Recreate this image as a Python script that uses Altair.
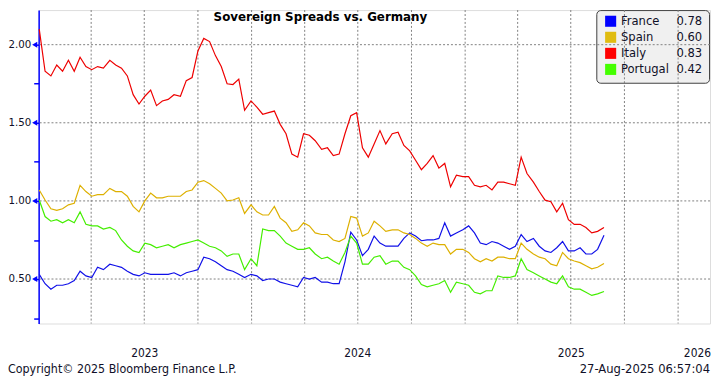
import altair as alt
import pandas as pd

countries = ["France", "Spain", "Italy", "Portugal"]
line_colors = ["#1010E8", "#DDB000", "#EE0000", "#44EE00"]
swatch_colors = ["#0000FF", "#E0BC10", "#FF0000", "#44FF00"]
last_values = ["0.78", "0.60", "0.83", "0.42"]

france = [0.53, 0.47, 0.435, 0.46, 0.46, 0.47, 0.49, 0.55, 0.52, 0.51,
          0.575, 0.56, 0.595, 0.585, 0.575, 0.55, 0.53, 0.52, 0.54, 0.53,
          0.53, 0.53, 0.53, 0.54, 0.52, 0.54, 0.55, 0.56, 0.64, 0.63,
          0.61, 0.585, 0.56, 0.55, 0.53, 0.51, 0.53, 0.52, 0.49, 0.50,
          0.50, 0.48, 0.47, 0.46, 0.45, 0.51, 0.50, 0.51, 0.48, 0.48,
          0.47, 0.47, 0.61, 0.80, 0.75, 0.65, 0.69, 0.775, 0.73, 0.71,
          0.71, 0.71, 0.76, 0.795, 0.775, 0.745, 0.75, 0.75, 0.76, 0.86,
          0.775, 0.795, 0.815, 0.84, 0.795, 0.73, 0.72, 0.74, 0.73, 0.71,
          0.69, 0.71, 0.785, 0.74, 0.76, 0.71, 0.68, 0.67, 0.70, 0.74,
          0.68, 0.68, 0.70, 0.66, 0.66, 0.69, 0.78]
spain = [1.07, 1.006, 0.95, 0.94, 0.95, 0.975, 0.985, 1.10, 1.06, 1.03,
         1.04, 1.04, 1.08, 1.06, 1.06, 1.03, 0.965, 0.93, 1.00, 1.05,
         1.02, 1.02, 1.03, 1.03, 1.03, 1.06, 1.07, 1.12, 1.13, 1.11,
         1.08, 1.05, 1.00, 1.006, 1.02, 0.92, 0.975, 0.93, 0.91, 0.91,
         0.965, 0.89, 0.86, 0.805, 0.815, 0.86, 0.84, 0.795, 0.785, 0.785,
         0.75, 0.74, 0.76, 0.90, 0.89, 0.775, 0.795, 0.87, 0.84, 0.805,
         0.815, 0.815, 0.795, 0.785, 0.76, 0.73, 0.71, 0.73, 0.72, 0.72,
         0.66, 0.69, 0.69, 0.67, 0.63, 0.61, 0.63, 0.615, 0.64, 0.64,
         0.63, 0.63, 0.73, 0.69, 0.66, 0.64, 0.63, 0.595, 0.585, 0.67,
         0.63, 0.615, 0.605, 0.585, 0.565, 0.575, 0.60]
italy = [2.10, 1.83, 1.80, 1.87, 1.83, 1.90, 1.83, 1.92, 1.86, 1.84,
         1.86, 1.85, 1.90, 1.87, 1.85, 1.80, 1.68, 1.62, 1.67, 1.71,
         1.61, 1.64, 1.65, 1.68, 1.67, 1.77, 1.79, 1.96, 2.04, 2.02,
         1.93, 1.86, 1.75, 1.745, 1.78, 1.58, 1.64, 1.60, 1.555, 1.565,
         1.575, 1.49, 1.43, 1.30, 1.28, 1.43, 1.42, 1.385, 1.33, 1.34,
         1.29, 1.30, 1.43, 1.545, 1.565, 1.34, 1.28, 1.365, 1.45, 1.365,
         1.43, 1.44, 1.355, 1.32, 1.26, 1.20, 1.24, 1.29, 1.21, 1.24,
         1.09, 1.165, 1.155, 1.155, 1.10, 1.09, 1.10, 1.07, 1.12, 1.12,
         1.11, 1.10, 1.28, 1.175, 1.12, 1.06, 1.005, 0.995, 0.93, 0.985,
         0.88, 0.85, 0.85, 0.83, 0.795, 0.805, 0.83]
portugal = [1.006, 0.90, 0.87, 0.88, 0.86, 0.88, 0.86, 0.93, 0.85, 0.84,
            0.84, 0.82, 0.83, 0.81, 0.75, 0.71, 0.68, 0.67, 0.73, 0.72,
            0.70, 0.71, 0.72, 0.70, 0.72, 0.73, 0.74, 0.75, 0.73, 0.71,
            0.70, 0.68, 0.645, 0.66, 0.66, 0.56, 0.63, 0.585, 0.82, 0.81,
            0.81, 0.775, 0.73, 0.71, 0.69, 0.69, 0.70, 0.66, 0.63, 0.64,
            0.615, 0.595, 0.67, 0.775, 0.73, 0.595, 0.595, 0.64, 0.65, 0.595,
            0.615, 0.615, 0.575, 0.56, 0.52, 0.465, 0.45, 0.46, 0.47, 0.49,
            0.415, 0.48, 0.47, 0.46, 0.415, 0.405, 0.425, 0.425, 0.52, 0.51,
            0.51, 0.52, 0.63, 0.56, 0.54, 0.52, 0.50, 0.48, 0.47, 0.52,
            0.45, 0.435, 0.435, 0.415, 0.395, 0.405, 0.42]

dates = pd.date_range("2023-01-02", "2025-08-27", periods=len(italy)).strftime("%Y-%m-%d").tolist()
quarter_grid = pd.date_range("2023-04-01", "2026-01-01", freq="QS").strftime("%Y-%m-%d").tolist()
y_grid = [0.5, 1.0, 1.5, 2.0]
y_ticks = [0.25, 0.5, 0.75, 1.0, 1.25, 1.5, 1.75, 2.0]
year_labels = ["2023", "2024", "2025"]
year_label_dates = ["2023-07-02", "2024-07-01", "2025-07-02"]
last_year_label = ["2026"]
title_text = ["Sovereign Spreads vs. Germany"]
copyright_text = ["Copyright\u00a9 2025 Bloomberg Finance L.P."]
stamp_text = ["27-Aug-2025 06:57:04"]

rows = []
for c, vals in zip(countries, [france, spain, italy, portugal]):
    for d, v in zip(dates, vals):
        rows.append({"date": d, "country": c, "value": v})
df = pd.DataFrame(rows)

LEFT = 31          # plot starts at page x = 8 + LEFT
W, H = 679, 317
FONT = "DejaVu Sans Condensed, Liberation Sans"
TXT = "#101028"
BLUE = "#0000FF"
GRID = "#808080"

x_scale = alt.Scale(type="utc", domain=[
    alt.DateTime(year=2023, month=1, date=1, utc=True),
    alt.DateTime(year=2026, month=2, date=24, hours=17, utc=True)])
y_scale = alt.Scale(domain=[0.2152, 2.2215], nice=False, zero=False)

y_axis = alt.Axis(
    values=y_ticks,
    labelExpr="datum.value % 0.5 == 0 ? format(datum.value, '.2f') : ''",
    tickSize=5, tickColor=BLUE, tickWidth=1.5,
    domainColor=BLUE, domainWidth=1.5,
    labelPadding=3, labelFont=FONT, labelFontSize=11.5, labelColor=TXT,
    grid=False, title=None)

vgrid = alt.Chart(pd.DataFrame({"d": quarter_grid})).mark_rule(
    color=GRID, strokeDash=[2, 2], strokeWidth=1).encode(
    x=alt.X("d:T", scale=x_scale, axis=None))

hgrid = alt.Chart(pd.DataFrame({"v": y_grid})).mark_rule(
    color=GRID, strokeDash=[2, 2], strokeWidth=1).encode(
    y=alt.Y("v:Q", scale=y_scale, axis=y_axis))

lines = alt.Chart(df).mark_line(strokeWidth=1.2).encode(
    x=alt.X("date:T", scale=x_scale, axis=None),
    y=alt.Y("value:Q", scale=y_scale, axis=y_axis),
    color=alt.Color("country:N", scale=alt.Scale(domain=countries, range=line_colors), legend=None),
    order=alt.Order("date:T"),
)

tri = alt.Chart(pd.DataFrame({"v": y_grid})).mark_point(
    shape="triangle-left", filled=True, color=BLUE, opacity=1, size=36).encode(
    x=alt.value(-4), y=alt.Y("v:Q", scale=y_scale, axis=y_axis))

years = alt.Chart(pd.DataFrame({"d": year_label_dates, "t": year_labels})).mark_text(
    font=FONT, fontSize=12, color=TXT, baseline="middle", align="center").encode(
    x=alt.X("d:T", scale=x_scale, axis=None), y=alt.value(H + 30), text="t:N")

year_last = alt.Chart(pd.DataFrame({"t": last_year_label})).mark_text(
    font=FONT, fontSize=12, color=TXT, baseline="middle", align="right").encode(
    x=alt.value(W + 1), y=alt.value(H + 30), text="t:N")

title = alt.Chart(pd.DataFrame({"t": title_text})).mark_text(
    font="DejaVu Sans", fontSize=12, fontWeight="bold", color="#000000",
    baseline="middle", align="center").encode(
    x=alt.value(324 - 8 - LEFT), y=alt.value(7.5), text="t:N")

copyright_mark = alt.Chart(pd.DataFrame({"t": copyright_text})).mark_text(
    font=FONT, fontSize=12.5, color=TXT, baseline="middle", align="left").encode(
    x=alt.value(-LEFT), y=alt.value(363), text="t:N")

stamp = alt.Chart(pd.DataFrame({"t": stamp_text})).mark_text(
    font=FONT, fontSize=13, color=TXT, baseline="middle", align="right").encode(
    x=alt.value(W), y=alt.value(363), text="t:N")

BX0 = 603 - 8 - LEFT
box = alt.Chart(pd.DataFrame({"t": [""]})).mark_rect(
    fill="#F0F0F0", stroke="#404040", strokeWidth=1, cornerRadius=4).encode(
    x=alt.value(BX0 + 0.5), x2=alt.value(W - 0.5), y=alt.value(0.5), y2=alt.value(74))

main = alt.layer(box, vgrid, hgrid, lines, tri, years, year_last, title, copyright_mark, stamp)

leg_df = pd.DataFrame({"name": countries, "val": last_values})
leg_y = alt.Y("name:N", scale=alt.Scale(domain=countries, range=[11.3, 60], padding=0), axis=None)
swatch = alt.Chart(leg_df).mark_square(size=125, opacity=1).encode(
    x=alt.value(BX0 + 14.5), y=leg_y,
    color=alt.Color("name:N", scale=alt.Scale(domain=countries, range=swatch_colors), legend=None))
names = alt.Chart(leg_df).mark_text(
    font=FONT, fontSize=13, color=TXT, align="left", baseline="middle").encode(
    x=alt.value(BX0 + 25), y=leg_y, text="name:N")
vals = alt.Chart(leg_df).mark_text(
    font=FONT, fontSize=13, color=TXT, align="left", baseline="middle").encode(
    x=alt.value(BX0 + 81), y=leg_y, text="val:N")
legend = alt.layer(swatch, names, vals)

chart = alt.layer(main, legend).resolve_scale(y="independent", color="independent").properties(
    width=W, height=H,
    autosize=alt.AutoSizeParams(type="none"),
    padding={"left": LEFT, "top": 0, "right": 2, "bottom": 53},
).configure_view(stroke=None).configure(background="white")

chart.save("out.html", embed_options={"renderer": "svg", "actions": False})
